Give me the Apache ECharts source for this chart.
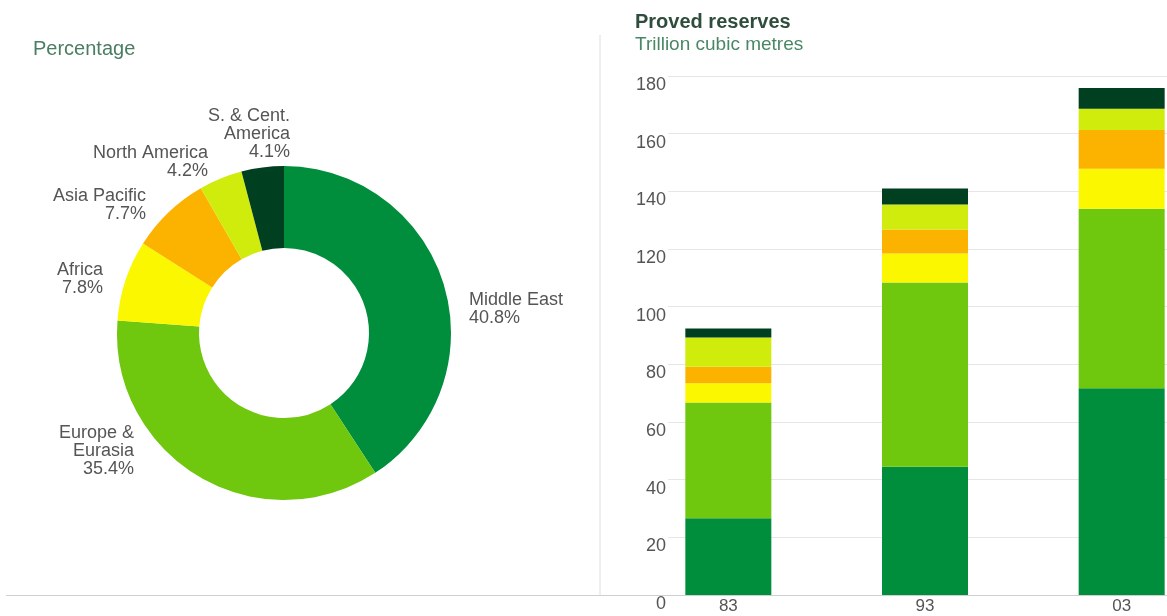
<!DOCTYPE html>
<html>
<head>
<meta charset="utf-8">
<script src="https://cdn.jsdelivr.net/npm/echarts@6/dist/echarts.min.js"></script>
<style>
  html, body { margin: 0; padding: 0; background: #fff; }
  #chart { width: 1167px; height: 616px; }
</style>
</head>
<body>
<div id="chart"></div>
<script>
// share of proved reserves by region (pie)
const regions = ['Middle East', 'Europe & Eurasia', 'Africa', 'Asia Pacific', 'North America', 'S. & Cent. America'];
const regionLabels = ['Middle East', 'Europe &\nEurasia', 'Africa', 'Asia Pacific', 'North America', 'S. & Cent.\nAmerica'];
const sharePct = [40.8, 35.4, 7.8, 7.7, 4.2, 4.1];

// proved reserves, trillion cubic metres (stacked bars)
const years = ['83', '93', '03'];
const middleEast = [26.6, 44.5, 71.7];
const europeEurasia = [40.2, 63.9, 62.3];
const africa = [6.6, 10.0, 13.8];
const asiaPacific = [5.8, 8.4, 13.5];
const northAmerica = [10.1, 8.6, 7.3];
const southCentral = [3.1, 5.6, 7.2];
const yTicks = [0, 180, 20]; // min, max, step

const colors = ['#008e3c', '#6fc70e', '#fbf700', '#fbb300', '#cfec0c', '#003f20'];

// where each pie label sits: [x, y, align]
const labelAnchors = [
  [469, 309, 'left'],
  [134, 451, 'right'],
  [103, 279, 'right'],
  [146, 205, 'right'],
  [208, 162, 'right'],
  [290, 134, 'right']
];

const chart = echarts.init(document.getElementById('chart'));

// bars live in grid 1 (wider than the canvas, so the three columns land where the original has them);
// grid 0 only carries the visible y axis and gridlines
const barSeries = [middleEast, europeEurasia, africa, asiaPacific, northAmerica, southCentral].map((vals, k) => ({
  name: regions[k],
  type: 'bar',
  stack: 'total',
  barWidth: 86,
  xAxisIndex: 1,
  yAxisIndex: 1,
  itemStyle: { color: colors[k] },
  data: vals
}));

const option = {
  animation: false,
  textStyle: { fontFamily: '"Liberation Sans", Arial, sans-serif' },
  title: [
    { text: 'Percentage', left: 33, top: 39, padding: 0,
      textStyle: { fontSize: 20, fontWeight: 'normal', color: '#4b7d62' } },
    { text: 'Proved reserves', left: 635, top: 12, padding: 0,
      textStyle: { fontSize: 20, fontWeight: 'bold', color: '#2f4d3d' } },
    { text: 'Trillion cubic metres', left: 635, top: 35, padding: 0,
      textStyle: { fontSize: 19, fontWeight: 'normal', color: '#4a8865' } }
  ],
  grid: [
    { left: 668, right: 0, top: 76, bottom: 21, outerBoundsMode: 'none' },
    { left: 630, width: 590, top: 76, bottom: 21, outerBoundsMode: 'none' }
  ],
  xAxis: [
    {
      gridIndex: 0,
      type: 'category',
      data: years,
      axisTick: { show: false },
      axisLabel: { show: false },
      axisLine: { show: true, lineStyle: { color: '#cfcfcf' } }
    },
    {
      gridIndex: 1,
      type: 'category',
      data: years,
      axisTick: { show: false },
      axisLine: { show: false },
      axisLabel: { fontSize: 17, color: '#555', margin: 3 }
    }
  ],
  yAxis: [
    {
      gridIndex: 0,
      type: 'value',
      min: yTicks[0],
      max: yTicks[1],
      interval: yTicks[2],
      axisLine: { show: false },
      axisTick: { show: false },
      splitLine: { lineStyle: { color: '#e6e6e6' } },
      axisLabel: { fontSize: 18, color: '#555', margin: 2, verticalAlign: 'top' }
    },
    {
      gridIndex: 1,
      type: 'value',
      min: yTicks[0],
      max: yTicks[1],
      interval: yTicks[2],
      show: false
    }
  ],
  graphic: [
    { type: 'line', shape: { x1: 600, y1: 35, x2: 600, y2: 595 },
      style: { stroke: '#dedede', lineWidth: 1 }, silent: true },
    { type: 'line', shape: { x1: 6, y1: 595.5, x2: 668, y2: 595.5 },
      style: { stroke: '#cfcfcf', lineWidth: 1 }, silent: true }
  ],
  series: [
    {
      type: 'pie',
      center: [284, 333],
      radius: [85, 167],
      startAngle: 90,
      clockwise: true,
      avoidLabelOverlap: false,
      label: {
        show: true,
        position: 'outside',
        fontSize: 18,
        lineHeight: 18,
        color: '#555',
        formatter: (p) => regionLabels[p.dataIndex] + '\n' + sharePct[p.dataIndex] + '%'
      },
      labelLine: { show: false },
      labelLayout: (p) => {
        const a = labelAnchors[p.dataIndex];
        return { x: a[0], y: a[1], align: a[2], verticalAlign: 'middle' };
      },
      emphasis: { disabled: true },
      data: regions.map((r, i) => ({ name: r, value: sharePct[i], itemStyle: { color: colors[i] } }))
    },
    ...barSeries
  ]
};

chart.setOption(option);
window.addEventListener('resize', () => chart.resize());
</script>
</body>
</html>
